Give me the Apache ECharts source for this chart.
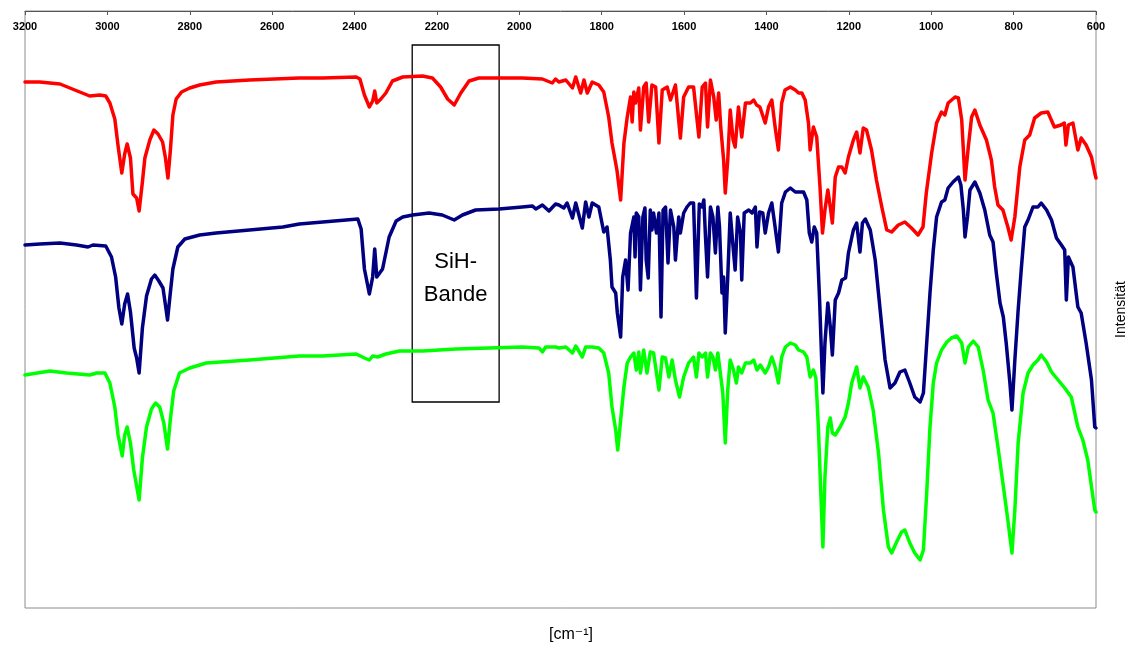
<!DOCTYPE html>
<html>
<head>
<meta charset="utf-8">
<script src="https://cdn.jsdelivr.net/npm/echarts@6/dist/echarts.min.js"></script>
<style>
html,body{margin:0;padding:0;background:#fff;}
#chart{width:1136px;height:646px;}
</style>
</head>
<body>
<div id="chart"></div>
<script>
// Wavenumber range and ticks [cm^-1]
const xMin = 600, xMax = 3200, xStep = 200;
const yMin = 0, yMax = 597;

// Spectrum 1 (red): [wavenumber, intensity]
const redPts = [[3200,526],[3164,526],[3115,524],[3067,516],[3055,514],[3043,512],[3018,513],[3004,512],[2994,505],[2982,489],[2974,462],[2965,435],[2958,454],[2952,464],[2944,450],[2938,414],[2929,410],[2923,397],[2915,426],[2909,450],[2897,468],[2887,478],[2877,474],[2866,466],[2859,450],[2853,430],[2847,458],[2841,493],[2833,509],[2820,516],[2800,520],[2776,523],[2736,526],[2655,528],[2534,530],[2477,530],[2396,531],[2387,529],[2376,513],[2364,501],[2356,507],[2351,517],[2346,505],[2336,509],[2324,515],[2308,527],[2283,531],[2235,532],[2211,530],[2191,521],[2174,509],[2158,503],[2142,515],[2122,527],[2098,530],[2049,530],[1993,530],[1944,529],[1920,525],[1912,529],[1904,526],[1887,528],[1871,520],[1863,531],[1851,515],[1843,528],[1835,515],[1823,526],[1807,523],[1795,516],[1783,491],[1775,465],[1763,438],[1754,408],[1746,465],[1738,491],[1730,511],[1726,486],[1722,516],[1718,505],[1710,520],[1706,478],[1698,521],[1692,525],[1686,486],[1678,523],[1669,521],[1661,465],[1653,518],[1641,521],[1633,508],[1621,523],[1609,470],[1601,511],[1589,521],[1577,521],[1564,471],[1556,521],[1548,525],[1543,481],[1536,528],[1528,511],[1522,488],[1516,515],[1511,481],[1504,448],[1500,415],[1494,448],[1488,498],[1481,468],[1476,461],[1468,501],[1460,471],[1451,505],[1439,505],[1431,508],[1424,503],[1416,501],[1403,485],[1395,501],[1387,508],[1379,481],[1371,458],[1363,505],[1355,518],[1342,521],[1330,518],[1322,515],[1314,515],[1306,508],[1298,485],[1294,458],[1286,481],[1278,471],[1270,421],[1264,375],[1258,398],[1251,418],[1245,401],[1240,385],[1233,431],[1225,441],[1217,441],[1209,435],[1201,451],[1189,468],[1181,476],[1173,455],[1165,480],[1157,478],[1145,458],[1133,428],[1120,401],[1108,378],[1096,376],[1080,383],[1064,386],[1048,380],[1032,373],[1020,381],[1012,415],[999,455],[987,485],[975,496],[967,493],[959,505],[942,511],[934,510],[926,488],[918,428],[910,461],[902,491],[894,498],[882,483],[866,468],[854,448],[846,421],[838,403],[826,398],[814,381],[806,368],[797,391],[785,441],[773,468],[761,473],[749,490],[733,495],[717,496],[701,481],[685,483],[677,485],[673,463],[667,483],[656,485],[644,458],[636,470],[624,463],[611,451],[603,435],[600,430]];

// Spectrum 2 (navy)
const navyPts = [[3200,363],[3164,364],[3115,365],[3075,363],[3047,361],[3035,363],[3004,362],[2990,351],[2980,331],[2972,300],[2965,284],[2958,304],[2951,314],[2944,296],[2935,260],[2929,250],[2923,235],[2915,280],[2905,312],[2893,329],[2885,333],[2875,327],[2865,320],[2858,300],[2854,288],[2847,316],[2841,339],[2829,361],[2812,369],[2776,373],[2736,375],[2655,378],[2574,381],[2534,384],[2477,386],[2392,389],[2384,379],[2376,339],[2364,314],[2356,331],[2351,359],[2346,331],[2332,339],[2316,371],[2299,387],[2283,391],[2259,393],[2219,395],[2187,393],[2158,388],[2138,393],[2106,398],[2049,399],[1993,401],[1968,402],[1960,399],[1944,403],[1928,397],[1912,404],[1904,403],[1892,400],[1884,405],[1871,390],[1863,405],[1847,380],[1839,406],[1831,391],[1823,405],[1807,401],[1795,376],[1787,381],[1779,348],[1775,321],[1766,315],[1762,295],[1754,271],[1749,331],[1742,348],[1736,318],[1730,375],[1722,391],[1719,351],[1716,395],[1710,391],[1706,318],[1700,391],[1695,400],[1692,348],[1687,330],[1682,398],[1678,378],[1674,395],[1667,375],[1661,395],[1656,291],[1651,398],[1645,401],[1639,345],[1633,398],[1625,381],[1621,348],[1613,391],[1609,375],[1601,395],[1593,401],[1585,405],[1577,405],[1570,310],[1563,404],[1556,401],[1552,408],[1548,371],[1543,331],[1536,401],[1530,391],[1524,355],[1518,401],[1514,381],[1508,315],[1504,331],[1500,275],[1494,331],[1488,395],[1481,361],[1476,338],[1470,391],[1463,375],[1460,328],[1454,395],[1443,398],[1435,395],[1427,401],[1423,361],[1417,396],[1409,395],[1403,375],[1395,395],[1387,405],[1379,381],[1371,356],[1363,405],[1354,416],[1342,420],[1330,416],[1322,416],[1310,416],[1302,408],[1296,375],[1290,366],[1284,381],[1278,375],[1271,308],[1266,248],[1263,215],[1258,265],[1251,305],[1245,281],[1240,253],[1233,308],[1225,315],[1217,328],[1208,330],[1201,355],[1189,378],[1181,385],[1173,356],[1167,385],[1160,389],[1148,378],[1136,348],[1124,298],[1112,248],[1100,220],[1088,225],[1076,236],[1064,238],[1052,225],[1040,211],[1027,206],[1019,215],[1011,265],[1003,315],[995,358],[987,391],[975,406],[967,408],[959,420],[947,426],[934,431],[928,423],[922,398],[918,371],[912,391],[906,418],[894,426],[882,415],[870,398],[858,373],[850,366],[842,335],[833,305],[825,291],[818,265],[809,225],[804,198],[797,248],[789,298],[781,341],[773,381],[765,388],[753,401],[741,401],[733,405],[720,398],[708,388],[696,370],[684,363],[676,358],[672,308],[667,351],[656,341],[644,301],[636,295],[624,265],[611,228],[603,181],[600,180]];

// Spectrum 3 (green)
const greenPts = [[3200,233],[3140,237],[3099,235],[3043,233],[3026,235],[3006,235],[2994,225],[2982,201],[2974,173],[2964,152],[2958,173],[2952,181],[2944,165],[2936,138],[2929,122],[2923,108],[2915,150],[2905,181],[2893,199],[2883,205],[2873,201],[2863,185],[2854,159],[2847,189],[2839,217],[2825,235],[2800,240],[2760,245],[2655,248],[2534,252],[2477,252],[2396,254],[2376,250],[2364,248],[2356,252],[2344,251],[2324,254],[2291,257],[2235,257],[2154,259],[2073,260],[1993,261],[1952,260],[1944,256],[1936,261],[1912,261],[1904,260],[1887,261],[1871,255],[1863,262],[1847,251],[1839,261],[1823,261],[1807,260],[1795,255],[1783,235],[1775,201],[1766,178],[1761,158],[1754,188],[1746,221],[1738,245],[1730,251],[1722,255],[1716,238],[1710,256],[1706,235],[1698,258],[1690,235],[1682,256],[1674,255],[1661,218],[1653,251],[1645,250],[1637,231],[1629,248],[1621,228],[1611,211],[1601,231],[1589,245],[1577,251],[1570,231],[1564,255],[1556,251],[1548,255],[1543,231],[1536,255],[1530,251],[1524,238],[1518,255],[1512,235],[1506,215],[1500,165],[1494,218],[1488,248],[1480,238],[1473,225],[1468,241],[1460,235],[1451,245],[1439,245],[1431,248],[1423,238],[1415,243],[1403,235],[1395,241],[1387,251],[1379,241],[1371,225],[1363,251],[1354,261],[1342,265],[1330,263],[1322,258],[1310,256],[1302,251],[1294,231],[1286,238],[1280,230],[1274,181],[1268,115],[1263,61],[1258,131],[1251,181],[1245,190],[1240,175],[1233,173],[1221,181],[1209,191],[1201,205],[1193,225],[1181,241],[1173,220],[1165,231],[1153,221],[1141,198],[1128,155],[1116,98],[1104,61],[1096,55],[1084,66],[1072,76],[1064,78],[1052,65],[1040,55],[1027,48],[1019,58],[1011,115],[1003,181],[995,225],[987,245],[975,258],[962,266],[951,270],[938,272],[934,271],[926,265],[918,245],[910,261],[898,267],[886,261],[874,238],[862,208],[850,195],[838,161],[826,125],[814,88],[804,55],[797,98],[789,165],[777,215],[765,235],[753,243],[741,248],[733,253],[720,246],[708,236],[692,228],[676,220],[660,211],[644,181],[632,168],[620,148],[603,98],[600,96]];

// SiH band annotation box
const boxWn = [2260, 2049];
const boxInt = [206, 563];
const boxLabel = 'SiH-\nBande';

const FONT = '"Liberation Sans", Arial, sans-serif';
const chart = echarts.init(document.getElementById('chart'), null, {renderer: 'canvas'});

function lineSeries(name, data, color, extra) {
  return Object.assign({
    name: name,
    type: 'line',
    data: data,
    symbol: 'none',
    showSymbol: false,
    lineStyle: {color: color, width: 3.5, join: 'round', cap: 'round'},
    itemStyle: {color: color},
    animation: false,
    silent: true
  }, extra || {});
}

chart.setOption({
  backgroundColor: '#ffffff',
  animation: false,
  grid: {left: 25, right: 38, top: 11, bottom: 38, show: true, borderColor: '#8c8c8c', borderWidth: 1, backgroundColor: 'transparent'},
  xAxis: {
    type: 'value',
    position: 'top',
    inverse: true,
    min: xMin, max: xMax, interval: xStep,
    axisLine: {show: true, onZero: false, lineStyle: {color: '#555', width: 1}},
    axisTick: {show: true, inside: true, length: 4, lineStyle: {color: '#555'}},
    axisLabel: {show: true, inside: true, margin: 10, color: '#000', fontSize: 11, fontWeight: 'bold', fontFamily: FONT,
      showMinLabel: true, showMaxLabel: true,
      formatter: function (v) { return String(v); }},
    splitLine: {show: false}
  },
  yAxis: {
    type: 'value',
    position: 'right',
    min: yMin, max: yMax,
    name: 'Intensität',
    nameLocation: 'middle',
    nameRotate: 90,
    nameGap: 18,
    nameTextStyle: {color: '#000', fontSize: 14, fontFamily: FONT},
    axisLine: {show: false, onZero: false},
    axisTick: {show: false},
    axisLabel: {show: false},
    splitLine: {show: false}
  },
  graphic: [{
    type: 'text',
    x: 571, y: 635,
    style: {text: '[cm\u207B\u00B9]', fill: '#000', font: '16px "Liberation Sans", "DejaVu Sans", Arial, sans-serif', textAlign: 'center', textVerticalAlign: 'middle'}
  }],
  series: [
    lineSeries('green', greenPts, '#00ff00'),
    lineSeries('navy', navyPts, '#000080'),
    lineSeries('red', redPts, '#ff0000', {
      markArea: {
        silent: true,
        itemStyle: {color: 'rgba(0,0,0,0)', borderColor: '#000', borderWidth: 1.3},
        label: {show: true, position: 'inside', formatter: boxLabel, color: '#000', fontSize: 22, lineHeight: 33, fontFamily: FONT, offset: [0, 55]},
        data: [[{xAxis: boxWn[0], yAxis: boxInt[0]}, {xAxis: boxWn[1], yAxis: boxInt[1]}]]
      }
    })
  ]
});
</script>
</body>
</html>
